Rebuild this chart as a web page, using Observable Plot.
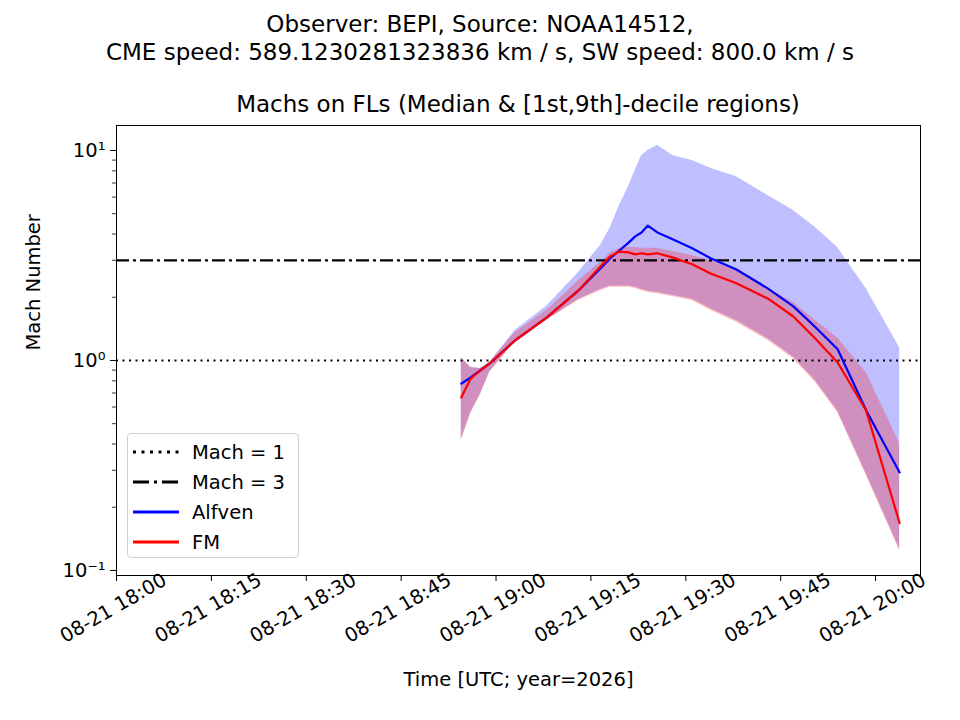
<!DOCTYPE html>
<html><head><meta charset="utf-8">
<script src="https://cdn.jsdelivr.net/npm/d3@7"></script>
<script src="https://cdn.jsdelivr.net/npm/@observablehq/plot@0.6"></script>
<style>
body{margin:0;background:#fff;font-family:"DejaVu Sans",sans-serif;}
#wrap{position:relative;width:960px;height:720px;}
.t{position:absolute;left:0;width:960px;text-align:center;color:#000;white-space:nowrap;font-size:23px;line-height:28px}
#legend{position:absolute;left:127px;top:433px;width:172px;height:125px;border:1px solid #d0d0d0;border-radius:4px;background:rgba(255,255,255,0.8);font-size:19.5px;box-sizing:border-box;padding-top:3px}
#legend div{height:30px;display:flex;align-items:center;}
#legend svg{margin:0 13px 0 5px;}
</style></head><body>
<div id="wrap">
<div class="t" style="top:10px">Observer: BEPI, Source: NOAA14512,</div>
<div class="t" style="top:38px">CME speed: 589.1230281323836 km / s, SW speed: 800.0 km / s</div>
<div class="t" style="top:90px;left:116px;width:804px">Machs on FLs (Median &amp; [1st,9th]-decile regions)</div>
<div id="chart" style="position:absolute;left:0;top:0"></div>
<div id="legend"></div>
</div>
<script>
const minutes = [54.5,56,57.5,59,63,68,73,76.5,78,79.5,81,82,83,84,85.5,88,91,94,98,103,107,110.5,114,118.5,123.8];
const alfvenMedian = [0.776,0.83,0.896,0.968,1.245,1.60,2.15,2.74,3.06,3.34,3.65,3.90,4.07,4.39,4.07,3.77,3.42,3.06,2.71,2.20,1.81,1.44,1.13,0.58,0.293];
const alfvenUpper = [1.03,0.926,0.916,0.978,1.39,1.81,2.62,3.53,4.25,5.47,6.8,8.05,9.45,10,10.6,9.45,8.97,8.21,7.5,6.1,5.18,4.30,3.45,2.20,1.15];
const alfvenLower = [0.42,0.565,0.69,0.885,1.23,1.56,1.95,2.18,2.26,2.26,2.26,2.23,2.18,2.14,2.11,2.04,1.96,1.76,1.55,1.27,1.04,0.80,0.575,0.29,0.127];
const fmMedian = [0.666,0.82,0.896,0.968,1.245,1.60,2.15,2.80,3.13,3.30,3.27,3.20,3.24,3.20,3.24,3.09,2.87,2.59,2.33,1.97,1.62,1.27,0.978,0.578,0.168];
const fmUpper = [1.03,0.926,0.916,0.978,1.36,1.73,2.40,2.93,3.24,3.42,3.45,3.45,3.42,3.42,3.42,3.30,3.16,2.99,2.68,2.20,1.89,1.55,1.28,0.877,0.403];
const fmLower = [0.416,0.559,0.681,0.877,1.22,1.55,1.93,2.15,2.23,2.23,2.23,2.20,2.15,2.11,2.08,2.01,1.93,1.73,1.52,1.245,1.02,0.786,0.565,0.284,0.124];
const xTickMinutes = [0,15,30,45,60,75,90,105,120];
const yTicks = [0.1,1,10];
const yTickLabels = ["10\u207B\u00B9","10\u2070","10\u00B9"];
const machLevels = [1,3];

const t0 = Date.UTC(2026,7,21,18,0);
const toDate = m => new Date(t0 + m*60000);
const rows = minutes.map((m,i)=>({t:toDate(m),aM:alfvenMedian[i],aU:alfvenUpper[i],aL:alfvenLower[i],fM:fmMedian[i],fU:fmUpper[i],fL:fmLower[i]}));
const minor = [];
for (const d of [0.1,1]) for (let k=2;k<=9;k++) minor.push(d*k);
const xTicks = xTickMinutes.map(toDate);
const fmt = d3.utcFormat("%m-%d %H:%M");

const chart = Plot.plot({
  width:960,height:720,marginTop:125,marginBottom:145,marginLeft:116,marginRight:40,
  style:{fontFamily:"DejaVu Sans",fontSize:"20px",color:"#000",background:"transparent"},
  x:{type:"utc",domain:[toDate(0),toDate(127.1)]},
  y:{type:"log",domain:[Math.pow(10,-1.024),Math.pow(10,1.119)]},
  marks:[
    Plot.areaY(rows,{x:"t",y1:"aL",y2:"aU",fill:"blue",fillOpacity:0.25,curve:"linear"}),
    Plot.areaY(rows,{x:"t",y1:"fL",y2:"fU",fill:"red",fillOpacity:0.25,curve:"linear"}),
    Plot.ruleY([machLevels[0]],{stroke:"black",strokeWidth:2,strokeDasharray:"2,4.5"}),
    Plot.ruleY([machLevels[1]],{stroke:"black",strokeWidth:2.2,strokeDasharray:"13,4,3,4"}),
    Plot.lineY(rows,{x:"t",y:"aM",stroke:"blue",strokeWidth:2.2}),
    Plot.lineY(rows,{x:"t",y:"fM",stroke:"red",strokeWidth:2.2}),
    Plot.frame({stroke:"black",strokeWidth:1}),
    Plot.axisX({ticks:xTicks,tickFormat:()=>"",tickSize:6,label:null}),
    Plot.text(xTicks,{x:d=>d,text:d=>fmt(d),frameAnchor:"bottom",dy:38,rotate:-30,textAnchor:"middle",fontSize:19.5}),
    Plot.axisY({ticks:yTicks,tickFormat:(d)=>yTickLabels[yTicks.indexOf(d)],tickSize:6,tickPadding:5,label:null,fontSize:19.5}),
    Plot.tickY(minor,{y:d=>d,stroke:"black",strokeWidth:0.8}),
    Plot.text(["Time [UTC; year=2026]"],{frameAnchor:"bottom",dy:110,fontSize:19.5}),
    Plot.text(["Mach Number"],{frameAnchor:"left",dx:-83,rotate:-90,fontSize:19.5})
  ]
});
document.getElementById("chart").appendChild(chart);
chart.querySelectorAll("g[aria-label='tick'] line").forEach(l=>{l.setAttribute("x1",112);l.setAttribute("x2",116);});

const leg = [["Mach = 1","black","3,5.5"],["Mach = 3","black","16,5,3,5"],["Alfven","blue",""],["FM","red",""]];
const L = document.getElementById("legend");
leg.forEach(([name,c,da])=>{
  const d=document.createElement("div");
  d.innerHTML=`<svg width="46" height="10"><line x1="0" y1="5" x2="46" y2="5" stroke="${c}" stroke-width="3" stroke-dasharray="${da}"/></svg>${name}`;
  L.appendChild(d);
});
</script>
</body></html>
